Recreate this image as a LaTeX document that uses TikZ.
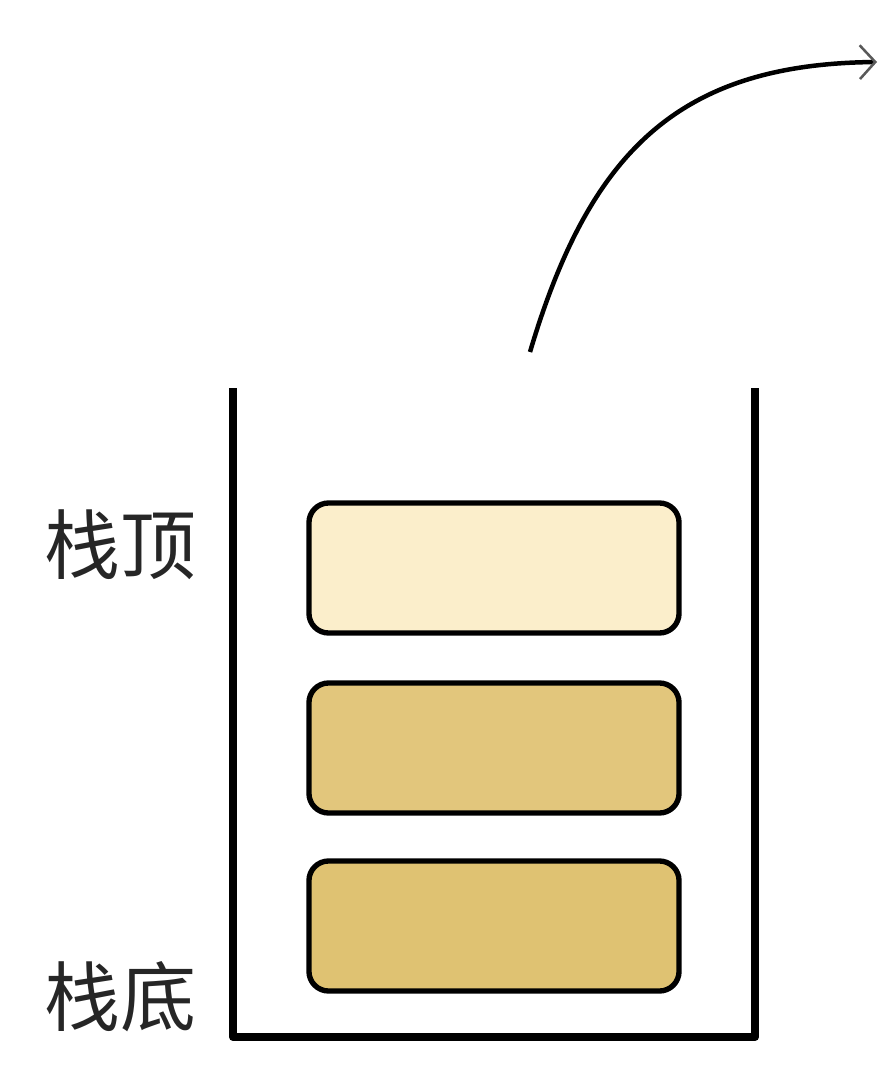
\documentclass[tikz,border=0pt]{standalone}
\usepackage{fontspec}
\newfontfamily\cjk{Noto Sans CJK SC}
\usetikzlibrary{arrows.meta}
\definecolor{topfill}{HTML}{FBEECB}
\definecolor{midfill}{HTML}{E2C67C}
\definecolor{botfill}{HTML}{DFC272}
\tikzstyle{elem}=[rectangle,draw,line width=3.8pt,rounded corners=14pt,minimum width=9.25cm,minimum height=3.25cm]
\tikzstyle{label}=[font=\cjk\fontsize{54}{60}\selectfont,text=black!85]

\begin{document}
\begin{tikzpicture}[x=0.025cm,y=-0.025cm]
  \useasboundingbox (0,0) rectangle (880,1076);
  \draw[line width=5.8pt,line join=round] (233,388) -- (233,1037) -- (755,1037) -- (755,388);
  \node[elem,fill=topfill] (top) at (494,568) {};
  \node[elem,fill=midfill] (mid) at (494,748) {};
  \node[elem,fill=botfill] (bot) at (494,926) {};
  \node[label] (toplbl) at (120,545) {栈顶};
  \node[label] (botlbl) at (120,997) {栈底};
  \coordinate (start) at (530,352);
  \coordinate (end) at (877,62);
  \draw[line width=3.2pt,-{Straight Barb[length=11pt,width=24pt,line width=1.8pt,color=black!65]}] (start) .. controls (590,150) and (680,64) .. (end);
\end{tikzpicture}
\end{document}
